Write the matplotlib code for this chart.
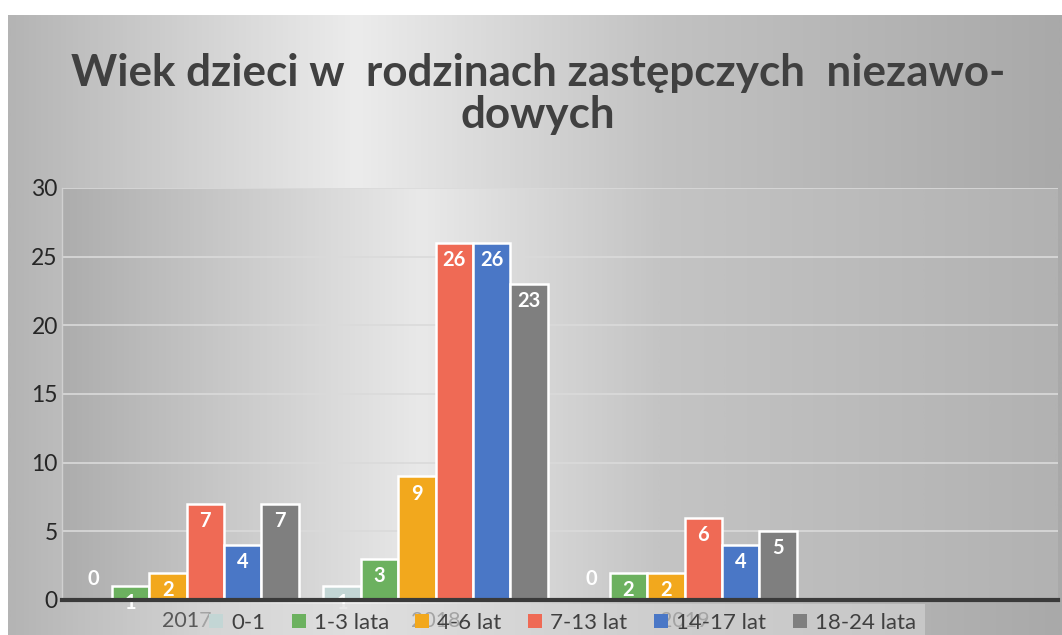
import numpy as np
import matplotlib
matplotlib.use("Agg")
import matplotlib.pyplot as plt
from matplotlib.colors import LinearSegmentedColormap
from matplotlib.patches import Patch

plt.rcParams['font.family'] = ['Lato', 'DejaVu Sans']

categories = ["2017", "2018", "2019", ""]
series_names = ["0-1", "1-3 lata", "4-6 lat", "7-13 lat", "14-17 lat", "18-24 lata"]
values = {
    "0-1":        [0, 1, 0],
    "1-3 lata":   [1, 3, 2],
    "4-6 lat":    [2, 9, 2],
    "7-13 lat":   [7, 26, 6],
    "14-17 lat":  [4, 26, 4],
    "18-24 lata": [7, 23, 5],
}
colors = ["#c3d6d5", "#6cb15f", "#f2a81d", "#ef6a55", "#4a77c6", "#7f7f7f"]
yticks = [0, 5, 10, 15, 20, 25, 30]

W, H = 1062, 635
fig = plt.figure(figsize=(W / 100, H / 100), dpi=100)
fig.patch.set_facecolor("white")

# outer gradient panel
bg = fig.add_axes([8 / W, 0, 1 - 8 / W, 1 - 15 / H])
bg_cmap = LinearSegmentedColormap.from_list(
    "bg", [(0.0, "#b4b4b4"), (0.33, "#ececec"), (0.62, "#c2c2c2"), (1.0, "#a9a9a9")])
bg.imshow(np.linspace(0, 1, 512)[None, :], aspect="auto", cmap=bg_cmap,
          extent=[0, 1, 0, 1])
bg.set_axis_off()

# plot area
x0, x1, ytop, ybot = 62, 1058, 188, 600
ax = fig.add_axes([x0 / W, 1 - ybot / H, (x1 - x0) / W, (ybot - ytop) / H])
pa_cmap = LinearSegmentedColormap.from_list(
    "pa", [(0.0, "#adadad"), (0.36, "#e9e9e9"), (0.6, "#c4c4c4"), (1.0, "#b2b2b2")])
ax.imshow(np.linspace(0, 1, 512)[None, :], aspect="auto", cmap=pa_cmap,
          extent=[-0.5, 3.5, 0, 30], zorder=0)

n = len(series_names)
bw = 0.15
x = np.arange(3)
for i, name in enumerate(series_names):
    off = (i - (n - 1) / 2) * bw
    vals = values[name]
    ax.bar(x + off, vals, width=bw, color=colors[i], edgecolor="white",
           linewidth=1.8, zorder=3)
    for xi, v in zip(x + off, vals):
        ty = v - 1.25 if v > 0 else 1.5
        ax.text(xi, ty, str(v), ha="center", va="center", color="white",
                fontsize=14.5, fontweight="bold", zorder=4)

ax.set_xlim(-0.5, 3.5)
ax.set_ylim(0, 30)
ax.set_yticks(yticks)
ax.set_xticks(np.arange(len(categories)))
ax.set_xticklabels(categories, color="#595959", fontsize=15.5)
ax.tick_params(axis="y", length=0, labelsize=16.5, labelcolor="#262626", pad=3)
ax.tick_params(axis="x", length=0, pad=8)
for yv in yticks[1:]:
    ax.axhline(yv, color="#dadada", linewidth=1.2, zorder=1)
for s in ["top", "right"]:
    ax.spines[s].set_visible(False)
ax.spines["left"].set_color("#d0d0d0")
ax.spines["left"].set_linewidth(1)
ax.spines["bottom"].set_color("#3a3a3a")
ax.spines["bottom"].set_linewidth(3)
ax.spines["bottom"].set_zorder(5)

handles = [Patch(facecolor=c, edgecolor="none") for c in colors]
leg = ax.legend(handles, series_names, loc="upper left",
                bbox_to_anchor=((200 - x0) / (x1 - x0), -(604 - ybot) / (ybot - ytop)),
                borderaxespad=0,
                ncol=6, frameon=True, fontsize=16, handlelength=0.63, handleheight=0.63,
                handletextpad=0.36, columnspacing=1.2, borderpad=0.4,
                fancybox=False, labelcolor="#404040")
leg.get_frame().set_facecolor("#d6d6d6")
leg.get_frame().set_alpha(0.6)
leg.get_frame().set_linewidth(0)
leg.set_zorder(10)

fig.text(538 / W, 1 - 94 / H, "Wiek dzieci w  rodzinach zastępczych  niezawo-\ndowych",
         ha="center", va="center", fontsize=31.7, fontweight="bold", color="#404040",
         linespacing=1.08)

fig.savefig("out.png", dpi=100, facecolor=fig.get_facecolor())
